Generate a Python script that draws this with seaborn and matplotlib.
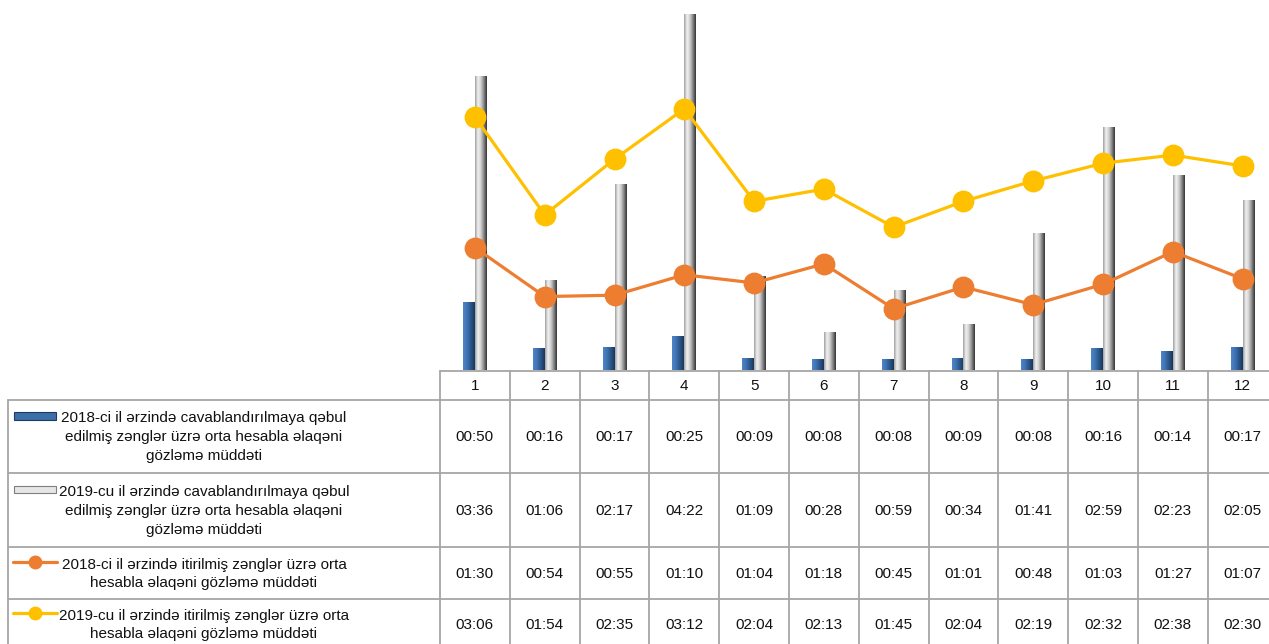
import numpy as np
import pandas as pd
import matplotlib
matplotlib.use("Agg")
import matplotlib.pyplot as plt
from matplotlib.colors import LinearSegmentedColormap
from matplotlib.lines import Line2D
from matplotlib.patches import Rectangle
import matplotlib.transforms as mtransforms
import seaborn as sns

# ---------------- data ----------------
months = ["1", "2", "3", "4", "5", "6", "7", "8", "9", "10", "11", "12"]
bar_2018 = ["00:50", "00:16", "00:17", "00:25", "00:09", "00:08", "00:08", "00:09", "00:08", "00:16", "00:14", "00:17"]
bar_2019 = ["03:36", "01:06", "02:17", "04:22", "01:09", "00:28", "00:59", "00:34", "01:41", "02:59", "02:23", "02:05"]
line_2018 = ["01:30", "00:54", "00:55", "01:10", "01:04", "01:18", "00:45", "01:01", "00:48", "01:03", "01:27", "01:07"]
line_2019 = ["03:06", "01:54", "02:35", "03:12", "02:04", "02:13", "01:45", "02:04", "02:19", "02:32", "02:38", "02:30"]

series_names = [
    "2018-ci il ərzində cavablandırılmaya qəbul\nedilmiş zənglər üzrə orta hesabla əlaqəni\ngözləmə müddəti",
    "2019-cu il ərzində cavablandırılmaya qəbul\nedilmiş zənglər üzrə orta hesabla əlaqəni\ngözləmə müddəti",
    "2018-ci il ərzində itirilmiş zənglər üzrə orta\nhesabla əlaqəni gözləmə müddəti",
    "2019-cu il ərzində itirilmiş zənglər üzrə orta\nhesabla əlaqəni gözləmə müddəti",
]


def to_sec(s):
    m, sec = s.split(":")
    return int(m) * 60 + int(sec)


bar_df = pd.DataFrame({
    "month": months * 2,
    "series": ["b2018"] * 12 + ["b2019"] * 12,
    "value": [to_sec(v) for v in bar_2018] + [to_sec(v) for v in bar_2019],
})
line_df = pd.DataFrame({
    "month": months * 2,
    "series": ["l2018"] * 12 + ["l2019"] * 12,
    "value": [to_sec(v) for v in line_2018] + [to_sec(v) for v in line_2019],
})

# ---------------- style ----------------
sns.set_theme(style="white")
plt.rcParams["font.family"] = ["Liberation Sans", "DejaVu Sans"]
FS = 11

BLUE = "#3c6ea8"
GRAY = "#bfbfbf"
ORANGE = "#ED7D31"
YELLOW = "#FFC000"
GRID = "#a6a6a6"
TXT = "#111111"

W, H = 1269, 644
fig = plt.figure(figsize=(W / 100, H / 100), dpi=100)
fig.patch.set_facecolor("white")

COLW = 69.8
X0 = 440
BASE = 370
ax = fig.add_axes([X0 / W, (H - BASE) / H, 12 * COLW / W, BASE / H])
ax.set_facecolor("none")

sns.barplot(data=bar_df, x="month", y="value", hue="series", order=months,
            palette=[BLUE, GRAY], width=0.34, saturation=1, legend=False,
            errorbar=None, ax=ax, zorder=2, linewidth=0)

# gradient shading of the bars
blue_cmap = LinearSegmentedColormap.from_list("b", ["#4f85c8", "#3f73b2", "#2a5689", "#1a3658"])
gray_cmap = LinearSegmentedColormap.from_list("g", ["#a0a0a0", "#f2f2f2", "#cfcfcf", "#858585", "#353535"])
grad = np.linspace(0, 1, 64).reshape(1, -1)
bars = [p for p in ax.patches if isinstance(p, Rectangle)]
for p in bars:
    x, y, w, h = p.get_x(), p.get_y(), p.get_width(), p.get_height()
    if h <= 0:
        continue
    fc = p.get_facecolor()
    is_blue = fc[2] > fc[0] + 0.1
    im = ax.imshow(grad, extent=[x, x + w, y, y + h], aspect="auto",
                   cmap=blue_cmap if is_blue else gray_cmap, zorder=2.5,
                   interpolation="bilinear")
    im.set_clip_path(p)

sns.pointplot(data=line_df, x="month", y="value", hue="series", order=months,
              palette=[ORANGE, YELLOW], markers="o", errorbar=None, legend=False,
              ax=ax, markersize=14, linewidth=2.3, zorder=5)
for ln in ax.lines:
    ln.set_zorder(5)
for c in ax.collections:
    c.set_zorder(5)

ax.set_xlim(-0.5, 11.5)
ax.set_ylim(0, 272)
ax.set_aspect("auto")
ax.set_xticks([])
ax.set_yticks([])
ax.set_xlabel("")
ax.set_ylabel("")
for s in ax.spines.values():
    s.set_visible(False)

# ---------------- data table ----------------
def fy(py):
    return 1 - py / H


def fx(px):
    return px / W


blend = mtransforms.blended_transform_factory(ax.transData, fig.transFigure)
row_edges = [371, 400, 473, 547, 599, 700]
lw = 1.3

for k in range(13):
    xd = k - 0.5
    fig.add_artist(Line2D([xd, xd], [fy(371), fy(700)], transform=blend, color=GRID, lw=lw))
fig.add_artist(Line2D([-0.5, 12.5], [fy(371), fy(371)], transform=blend, color=GRID, lw=lw))
for e in row_edges[1:5]:
    fig.add_artist(Line2D([fx(8), fx(1300)], [fy(e), fy(e)], transform=fig.transFigure, color=GRID, lw=lw))
fig.add_artist(Line2D([fx(8), fx(8)], [fy(400), fy(700)], transform=fig.transFigure, color=GRID, lw=lw))

for i, m in enumerate(months):
    fig.text(i, fy(385.5), m, transform=blend, ha="center", va="center", fontsize=FS, color=TXT)

row_centers = [437, 511, 574, 625]
all_vals = [bar_2018, bar_2019, line_2018, line_2019]
for r, vals in enumerate(all_vals):
    for i, v in enumerate(vals):
        fig.text(i, fy(row_centers[r]), v, transform=blend, ha="center", va="center",
                 fontsize=FS, color=TXT)

for r, name in enumerate(series_names):
    fig.text(fx(204), fy(row_centers[r]), name, ha="center", va="center",
             fontsize=FS, color=TXT, linespacing=1.45, multialignment="center")

# legend keys
key_y = [416, 489, 562, 613]
for r, (col, edge) in enumerate([(BLUE, "#1d3b60"), ("#e6e6e6", "#7f7f7f")]):
    yk = key_y[r]
    fig.add_artist(Rectangle((fx(14), fy(yk + 3.5)), fx(56) - fx(14), fy(yk - 3.5) - fy(yk + 3.5),
                             transform=fig.transFigure, facecolor=col, edgecolor=edge, lw=0.8))
for r, col in [(2, ORANGE), (3, YELLOW)]:
    yk = key_y[r]
    fig.add_artist(Line2D([fx(13), fx(57)], [fy(yk), fy(yk)], transform=fig.transFigure,
                          color=col, lw=2.3, zorder=3))
    fig.add_artist(Line2D([fx(35)], [fy(yk)], transform=fig.transFigure,
                          color=col, marker="o", markersize=9, lw=0, zorder=4))

fig.savefig("out.png", dpi=100)
